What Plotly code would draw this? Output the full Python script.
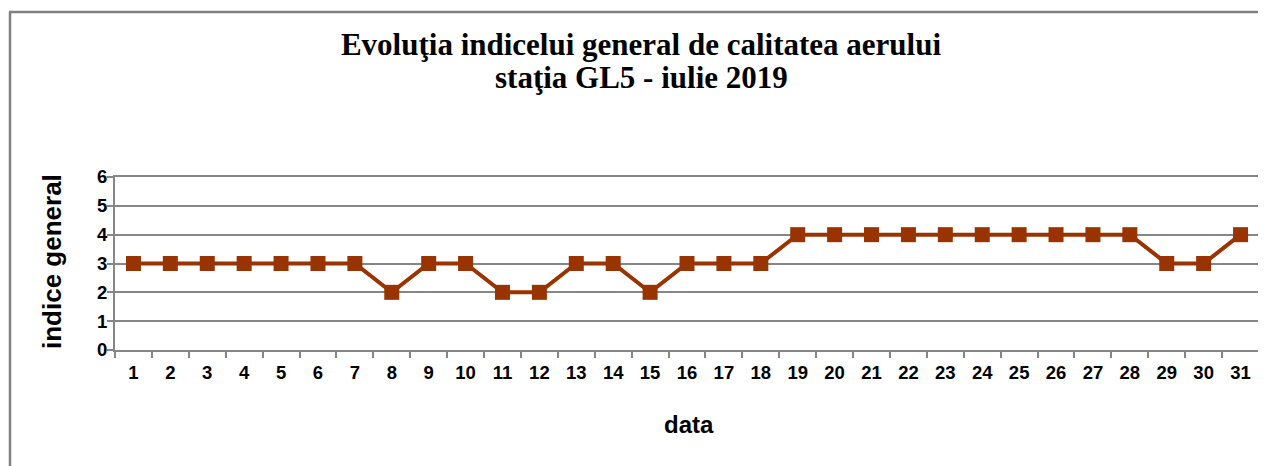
import plotly.graph_objects as go

days = [str(d) for d in range(1, 32)]
indice = [3, 3, 3, 3, 3, 3, 3, 2, 3, 3, 2, 2, 3, 3, 2, 3, 3, 3,
          4, 4, 4, 4, 4, 4, 4, 4, 4, 4, 3, 3, 4]
y_ticks = [0, 1, 2, 3, 4, 5, 6]

title_line1 = "Evoluţia indicelui general de calitatea aerului"
title_line2 = "staţia GL5 - iulie 2019"
x_title = "data"
y_title = "indice general"

# the page body has an 8px margin; size the figure so it ends at the window edge
OFF = 8
W, H = 1266 - OFF, 466 - OFF
ML, MR, MT, MB = 115 - OFF, 7, 177 - OFF, 116
PW = W - ML - MR
PH = H - MT - MB

def px_x(p):  # page pixel -> paper x
    return (p - OFF - ML) / PW

def px_y(p):  # page pixel -> paper y
    return (H - MB - (p - OFF)) / PH

fig = go.Figure()
fig.add_trace(go.Scatter(
    x=days, y=indice, mode="lines+markers",
    line=dict(color="#993300", width=4),
    marker=dict(symbol="square", size=15, color="#993300"),
    showlegend=False,
))

sans = "Liberation Sans, Arial"
serif = "Liberation Serif, Times New Roman"
axis_font = dict(family=sans, size=18.5, color="#000000")
fig.update_layout(
    width=W, height=H,
    margin=dict(l=ML, r=MR, t=MT, b=MB, autoexpand=False),
    paper_bgcolor="white", plot_bgcolor="white",
    title=dict(
        text="<b>" + title_line1 + "</b>",
        font=dict(family=serif, size=31, color="#000000"),
        x=(641 - OFF) / W, xanchor="center", xref="container",
        y=1 - (44 - OFF) / H, yanchor="middle", yref="container",
    ),
    xaxis=dict(
        type="category", categoryorder="array", categoryarray=days,
        range=[-0.5, len(days) - 0.5],
        tickson="boundaries", ticks="outside", ticklen=6, tickwidth=2, tickcolor="#868686",
        ticklabelstandoff=5,
        showline=True, linecolor="#868686", linewidth=2, mirror=True,
        showgrid=False, zeroline=False, automargin=False,
        tickfont=axis_font,
        tickprefix="<b>", ticksuffix="</b>",
        fixedrange=True,
    ),
    yaxis=dict(
        range=[0, 6], tickvals=y_ticks, ticktext=["<b>%d</b>" % v for v in y_ticks],
        ticks="outside", ticklen=6, tickwidth=2, tickcolor="#868686",
        ticklabelstandoff=-4,
        showline=True, linecolor="#868686", linewidth=2, mirror=True,
        showgrid=True, gridcolor="#868686", gridwidth=2, zeroline=False,
        automargin=False,
        tickfont=axis_font,
        fixedrange=True,
    ),
    annotations=[
        dict(text="<b>" + title_line2 + "</b>", xref="paper", yref="paper",
             x=px_x(641), y=px_y(78), xanchor="center", yanchor="middle",
             showarrow=False, font=dict(family=serif, size=31, color="#000000")),
        dict(text="<b>" + x_title + "</b>", xref="paper", yref="paper",
             x=px_x(689), y=px_y(424), xanchor="center", yanchor="middle",
             showarrow=False, font=dict(family=sans, size=24, color="#000000")),
        dict(text="<b>" + y_title + "</b>", xref="paper", yref="paper",
             x=px_x(52), y=px_y(262), xanchor="center", yanchor="middle",
             textangle=-90,
             showarrow=False, font=dict(family=sans, size=26, color="#000000")),
    ],
    shapes=[
        dict(type="line", xref="paper", yref="paper",
             x0=px_x(10), x1=px_x(10), y0=px_y(12), y1=px_y(480),
             line=dict(color="#808080", width=2.5)),
        dict(type="line", xref="paper", yref="paper",
             x0=px_x(9), x1=px_x(1280), y0=px_y(12), y1=px_y(12),
             line=dict(color="#808080", width=2.5)),
    ],
)

fig.write_html("out.html")
